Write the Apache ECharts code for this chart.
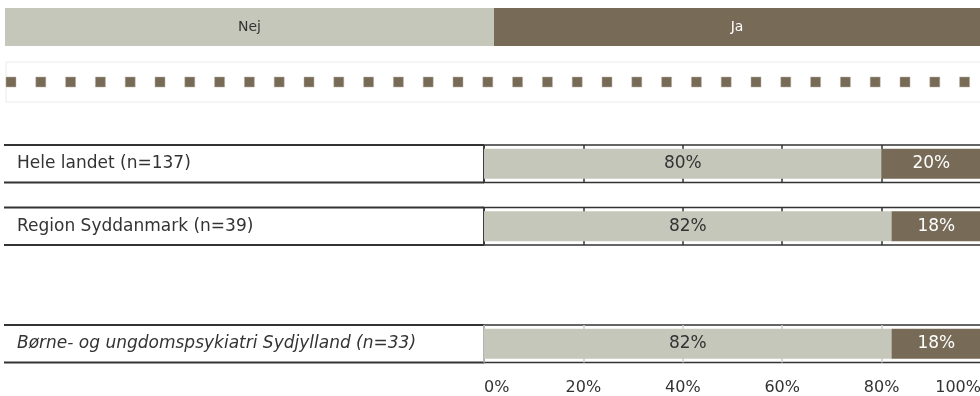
<!DOCTYPE html>
<html><head><meta charset="utf-8">
<script src="https://cdn.jsdelivr.net/npm/echarts@6/dist/echarts.min.js"></script>
<style>html,body{margin:0;padding:0;background:#fff}#c{width:980px;height:396px}</style>
</head><body><div id="c"></div>
<script>
// ---- data ----
const categories = ['Hele landet (n=137)', 'Region Syddanmark (n=39)', 'Børne- og ungdomspsykiatri Sydjylland (n=33)'];
const nejValues = [80, 82, 82];
const jaValues = [20, 18, 18];
const seriesNames = ['Nej', 'Ja'];
const tickLabels = ['0%', '20%', '40%', '60%', '80%', '100%'];

// ---- layout / style ----
const FONT = 'Verdana, "DejaVu Sans", sans-serif';
const C_NEJ = '#c5c7bb', C_JA = '#776a56', C_TXT = '#333333';
const rowTops = [145, 207.5, 325];
const rowH = 37.5;
const barLeft = 484;
const italicRow = [false, false, true];

const chart = echarts.init(document.getElementById('c'), null, {renderer: 'canvas'});

const grids = [], xAxes = [], yAxes = [], series = [];
rowTops.forEach((top, i) => {
  const last = i === rowTops.length - 1;
  grids.push({left: barLeft, right: -1, top: top, height: rowH, show: true, borderColor: '#333', borderWidth: 1.5,
    backgroundColor: 'transparent', outerBoundsMode: 'none', containLabel: false});
  xAxes.push({
    type: 'value', gridIndex: i, min: 0, max: 100, interval: 20,
    axisLine: {show: false}, axisTick: {show: false},
    splitLine: {show: true, lineStyle: {color: last ? '#cfcfcf' : '#333', width: 1.5}},
    axisLabel: {show: last, fontFamily: FONT, fontSize: 16, color: C_TXT, margin: 17,
      alignMinLabel: 'left', alignMaxLabel: 'right',
      formatter: v => tickLabels[Math.round(v / 20)]}
  });
  yAxes.push({
    type: 'category', gridIndex: i, data: [categories[i]],
    axisLine: {show: false}, axisTick: {show: false},
    axisLabel: {show: true, align: 'left', margin: barLeft - 17, fontFamily: FONT, fontSize: 17,
      color: C_TXT, fontStyle: italicRow[i] ? 'italic' : 'normal'}
  });
  series.push({
    name: seriesNames[0], type: 'bar', stack: 's' + i, xAxisIndex: i, yAxisIndex: i,
    data: [nejValues[i]], barWidth: 30, itemStyle: {color: C_NEJ},
    label: {show: true, position: 'inside', formatter: '{c}%', fontFamily: FONT, fontSize: 17, color: C_TXT},
    silent: true
  });
  series.push({
    name: seriesNames[1], type: 'bar', stack: 's' + i, xAxisIndex: i, yAxisIndex: i,
    data: [jaValues[i]], barWidth: 30, itemStyle: {color: C_JA},
    label: {show: true, position: 'inside', formatter: '{c}%', fontFamily: FONT, fontSize: 17, color: '#ffffff'},
    silent: true
  });
});

// decorative graphics: header legend, dotted separator, label-cell borders
const graphic = [];
const hdrTop = 8, hdrH = 38, hdrLeft = 5, hdrSplit = 494;
graphic.push({type: 'rect', shape: {x: hdrLeft, y: hdrTop, width: hdrSplit - hdrLeft, height: hdrH}, style: {fill: C_NEJ}, silent: true});
graphic.push({type: 'rect', shape: {x: hdrSplit, y: hdrTop, width: 980 - hdrSplit, height: hdrH}, style: {fill: C_JA}, silent: true});
graphic.push({type: 'text', x: (hdrLeft + hdrSplit) / 2, y: hdrTop + hdrH / 2, style: {text: seriesNames[0], font: '14px ' + FONT, fill: C_TXT, align: 'center', verticalAlign: 'middle'}, silent: true});
graphic.push({type: 'text', x: (hdrSplit + 980) / 2, y: hdrTop + hdrH / 2, style: {text: seriesNames[1], font: '14px ' + FONT, fill: '#ffffff', align: 'center', verticalAlign: 'middle'}, silent: true});
graphic.push({type: 'rect', shape: {x: 6, y: 62, width: 980, height: 40}, style: {fill: 'none', stroke: '#ececec', lineWidth: 1}, silent: true});
for (let k = 0; k < 33; k++) {
  graphic.push({type: 'rect', shape: {x: 6 + k * 29.8, y: 77, width: 10, height: 10}, style: {fill: C_JA, stroke: '#b9b2a6', lineWidth: 0.5}, silent: true});
}
rowTops.forEach(top => {
  graphic.push({type: 'polyline', shape: {points: [[4, top], [barLeft, top]]}, style: {stroke: '#333', lineWidth: 2}, silent: true});
  graphic.push({type: 'polyline', shape: {points: [[4, top + rowH], [barLeft, top + rowH]]}, style: {stroke: '#333', lineWidth: 2}, silent: true});
});

chart.setOption({
  animation: false,
  backgroundColor: '#ffffff',
  textStyle: {fontFamily: FONT},
  grid: grids, xAxis: xAxes, yAxis: yAxes, series: series,
  graphic: graphic
});
</script></body></html>
